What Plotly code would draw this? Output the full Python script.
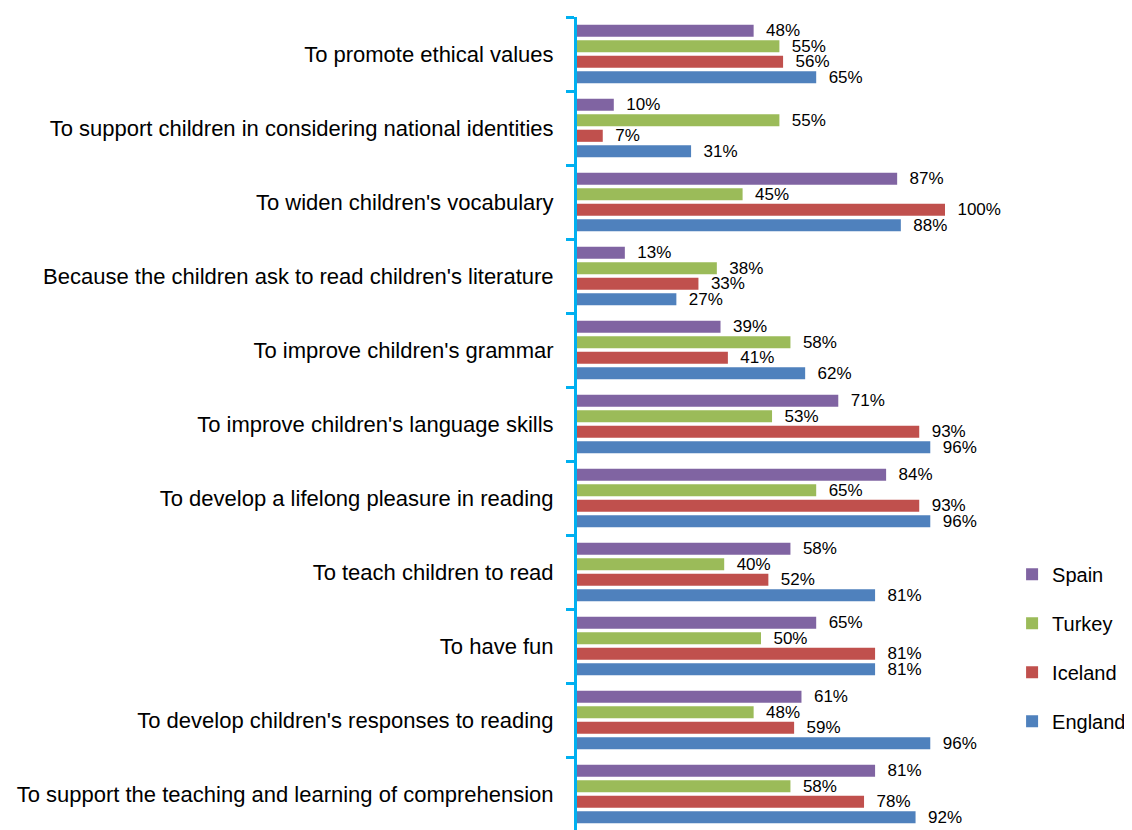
import plotly.graph_objects as go

categories = [
    "To promote ethical values",
    "To support children in considering national identities",
    "To widen children's vocabulary",
    "Because the children ask to read children's literature",
    "To improve children's grammar",
    "To improve children's language skills",
    "To develop a lifelong pleasure in reading",
    "To teach children to read",
    "To have fun",
    "To develop children's responses to reading",
    "To support the teaching and learning of comprehension",
]

spain = [48, 10, 87, 13, 39, 71, 84, 58, 65, 61, 81]
turkey = [55, 55, 45, 38, 58, 53, 65, 40, 50, 48, 58]
iceland = [56, 7, 100, 33, 41, 93, 93, 52, 81, 59, 78]
england = [65, 31, 88, 27, 62, 96, 96, 81, 81, 96, 92]

series = [
    ("Spain", spain, "#8064A2"),
    ("Turkey", turkey, "#9BBB59"),
    ("Iceland", iceland, "#C0504D"),
    ("England", england, "#4F81BD"),
]

FONT = "Liberation Sans"

fig = go.Figure()
for name, vals, color in series:
    fig.add_trace(go.Bar(
        y=categories, x=vals, name=name, orientation="h",
        marker=dict(color=color, line=dict(width=0)),
        text=[f"{v}%" for v in vals],
        texttemplate="  %{text}",
        textposition="outside",
        constraintext="none",
        textfont=dict(family=FONT, size=17, color="#000000"),
        cliponaxis=False,
        legendgroup=name,
    ))

fig.update_layout(
    width=1132, height=830,
    margin=dict(l=569, r=195, t=9, b=7, autoexpand=False),
    paper_bgcolor="white", plot_bgcolor="white",
    barmode="group", bargap=0.16, bargroupgap=0.22,
    font=dict(family=FONT, size=20, color="#000000"),
    xaxis=dict(range=[0, 100], visible=False, showgrid=False, zeroline=False),
    yaxis=dict(
        autorange="reversed", type="category",
        showline=True, linecolor="#00B0F0", linewidth=3,
        ticks="outside", ticklen=8, tickwidth=3, tickcolor="#00B0F0",
        tickson="boundaries", showgrid=False,
        tickfont=dict(family=FONT, size=22, color="#000000"),
        ticklabelstandoff=16,
    ),
    legend=dict(
        xref="container", yref="container",
        x=0.887, y=0.3414, xanchor="left", yanchor="top",
        font=dict(family=FONT, size=20),
        tracegroupgap=20,
        bgcolor="rgba(0,0,0,0)",
    ),
    showlegend=True,
)

fig.write_html("out.html")
